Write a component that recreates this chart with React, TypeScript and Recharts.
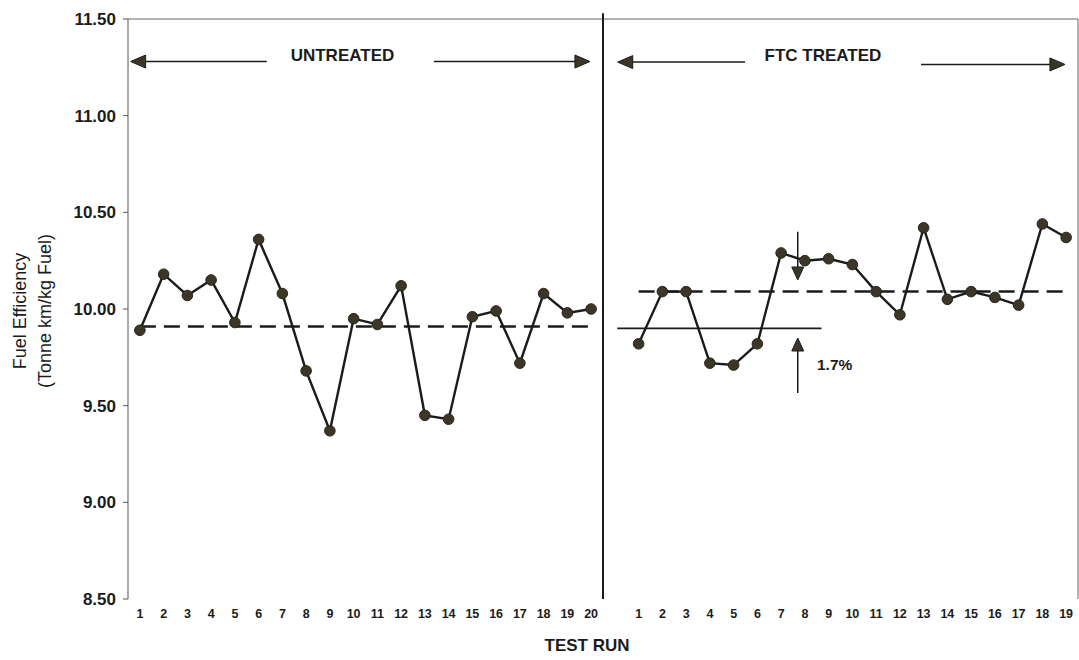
import React from 'react';
import { LineChart, Line, XAxis, YAxis, ReferenceLine, ReferenceDot, Label } from 'recharts';

// Fuel efficiency (Tonne km/kg Fuel) per test run
const untreatedRuns = [1, 2, 3, 4, 5, 6, 7, 8, 9, 10, 11, 12, 13, 14, 15, 16, 17, 18, 19, 20];
const untreatedValues = [9.89, 10.18, 10.07, 10.15, 9.93, 10.36, 10.08, 9.68, 9.37, 9.95, 9.92, 10.12, 9.45, 9.43, 9.96, 9.99, 9.72, 10.08, 9.98, 10.0];
const treatedRuns = [1, 2, 3, 4, 5, 6, 7, 8, 9, 10, 11, 12, 13, 14, 15, 16, 17, 18, 19];
const treatedValues = [9.82, 10.09, 10.09, 9.72, 9.71, 9.82, 10.29, 10.25, 10.26, 10.23, 10.09, 9.97, 10.42, 10.05, 10.09, 10.06, 10.02, 10.44, 10.37];
const yTicks = [8.5, 9.0, 9.5, 10.0, 10.5, 11.0, 11.5];
const untreatedMean = 9.91;
const treatedMean = 10.09;
const untreatedBaseline = 9.9;
const improvementLabel = '1.7%';
const panelLabels = ['UNTREATED', 'FTC TREATED'];

// slot layout: untreated runs in slots 1..20, empty slot 21, treated runs in slots 22..40
const GAP = untreatedRuns.length + 1;
const slotCount = untreatedRuns.length + 1 + treatedRuns.length;
const slots: number[] = Array.from({ length: slotCount }, (_, i) => i + 1);
const boundaries: number[] = Array.from({ length: slotCount + 1 }, (_, i) => i + 0.5);

const data = slots.map((s) => ({
  slot: s,
  untreated: s <= untreatedRuns.length ? untreatedValues[s - 1] : null,
  treated: s > GAP ? treatedValues[s - GAP - 1] : null,
}));

const tickLabel = (v: number) => {
  if (v <= untreatedRuns.length) return String(untreatedRuns[v - 1]);
  if (v === GAP) return '';
  return String(treatedRuns[v - GAP - 1]);
};

const INK = '#1b1b1b';
const DOT = '#3b3627';
const FONT = 'Arial, "Liberation Sans", Helvetica, sans-serif';

const arrowLeft = (p: any) => (
  <polygon points={`${p.cx},${p.cy} ${p.cx + 15},${p.cy - 6.5} ${p.cx + 15},${p.cy + 6.5}`} fill={DOT} stroke={INK} strokeWidth={1} />
);
const arrowRight = (p: any) => (
  <polygon points={`${p.cx},${p.cy} ${p.cx - 15},${p.cy - 6.5} ${p.cx - 15},${p.cy + 6.5}`} fill={DOT} stroke={INK} strokeWidth={1} />
);
const arrowDown = (p: any) => (
  <polygon points={`${p.cx},${p.cy} ${p.cx - 6},${p.cy - 13} ${p.cx + 6},${p.cy - 13}`} fill={DOT} stroke={INK} strokeWidth={1} />
);
const arrowUp = (p: any) => (
  <polygon points={`${p.cx},${p.cy} ${p.cx - 6},${p.cy + 13} ${p.cx + 6},${p.cy + 13}`} fill={DOT} stroke={INK} strokeWidth={1} />
);
const textShape = (txt: string, size: number, anchor: string) => (p: any) => (
  <text x={p.cx} y={p.cy} textAnchor={anchor} dominantBaseline="central" fontFamily={FONT} fontWeight="bold" fontSize={size} fill={INK}>
    {txt}
  </text>
);

const YTitle = (props: any) => {
  const vb = props.viewBox || { x: 0, y: 0, width: 0, height: 0 };
  const cy = vb.y + vb.height / 2 + 2;
  const x1 = vb.x + 20;
  const x2 = vb.x + 45;
  return (
    <g>
      <text x={x1} y={cy} transform={`rotate(-90, ${x1}, ${cy})`} textAnchor="middle" dominantBaseline="central" fontFamily={FONT} fontSize={18} fill={INK}>
        Fuel Efficiency
      </text>
      <text x={x2} y={cy} transform={`rotate(-90, ${x2}, ${cy})`} textAnchor="middle" dominantBaseline="central" fontFamily={FONT} fontSize={18} fill={INK}>
        (Tonne km/kg Fuel)
      </text>
    </g>
  );
};

const XTitle = (props: any) => {
  const vb = props.viewBox || { x: 0, y: 0, width: 0, height: 0 };
  return (
    <text x={vb.x + vb.width / 2 - 16} y={vb.y + vb.height - 11} textAnchor="middle" dominantBaseline="central" fontFamily={FONT} fontWeight="bold" fontSize={17} fill={INK}>
      TEST RUN
    </text>
  );
};

export default function App() {
  const ax = { xAxisId: 'lab' };
  return (
    <div style={{ position: 'absolute', left: 0, top: 0, width: 1079, height: 656, background: '#fff' }}>
      <LineChart width={1079} height={656} data={data} margin={{ top: 19, right: 1, left: 0, bottom: 0 }}>
        <XAxis
          xAxisId="frame"
          type="number"
          dataKey="slot"
          domain={[0.5, slotCount + 0.5]}
          ticks={boundaries}
          interval={0}
          tick={false}
          tickLine={{ stroke: '#444', strokeWidth: 1 }}
          axisLine={{ stroke: '#444', strokeWidth: 1.2 }}
          tickSize={5}
          height={0}
          allowDataOverflow
        />
        <XAxis
          xAxisId="lab"
          type="number"
          dataKey="slot"
          domain={[0.5, slotCount + 0.5]}
          ticks={slots}
          interval={0}
          tickFormatter={tickLabel}
          tickLine={false}
          axisLine={false}
          tickSize={0}
          tickMargin={10}
          height={57}
          tick={{ fontFamily: FONT, fontWeight: 'bold', fontSize: 12.5, fill: INK }}
          allowDataOverflow
        >
          <Label content={XTitle} />
        </XAxis>
        <YAxis
          type="number"
          domain={[8.5, 11.5]}
          ticks={yTicks}
          interval={0}
          width={128}
          tickFormatter={(v: number) => v.toFixed(2)}
          tickSize={5}
          tickMargin={7}
          stroke="#555"
          tick={{ fontFamily: FONT, fontWeight: 'bold', fontSize: 17, fill: INK }}
          allowDataOverflow
        >
          <Label content={YTitle} />
        </YAxis>

        {/* frame top and right */}
        <ReferenceLine {...ax} y={11.5} stroke="#666" strokeWidth={1} />
        <ReferenceLine {...ax} x={slotCount + 0.5} stroke="#666" strokeWidth={1} />
        {/* divider between panels */}
        <ReferenceLine
          {...ax}
          segment={[{ x: GAP - 0.5, y: 8.5 }, { x: GAP - 0.5, y: 11.53 }]}
          ifOverflow="visible"
          stroke={INK}
          strokeWidth={2}
        />

        {/* mean lines */}
        <ReferenceLine {...ax} segment={[{ x: 1, y: untreatedMean }, { x: untreatedRuns.length, y: untreatedMean }]} stroke={INK} strokeWidth={2.5} strokeDasharray="16 8" />
        <ReferenceLine {...ax} segment={[{ x: GAP + 1, y: treatedMean }, { x: slotCount, y: treatedMean }]} stroke={INK} strokeWidth={2.5} strokeDasharray="16 8" />
        <ReferenceLine {...ax} segment={[{ x: GAP + 0.1, y: untreatedBaseline }, { x: GAP + 8.7, y: untreatedBaseline }]} stroke={INK} strokeWidth={1.8} />

        {/* improvement arrows */}
        <ReferenceLine {...ax} segment={[{ x: GAP + 7.7, y: 10.4 }, { x: GAP + 7.7, y: 10.2 }]} stroke={INK} strokeWidth={1.5} />
        <ReferenceDot {...ax} x={GAP + 7.7} y={10.15} r={0} shape={arrowDown} />
        <ReferenceLine {...ax} segment={[{ x: GAP + 7.7, y: 9.565 }, { x: GAP + 7.7, y: 9.8 }]} stroke={INK} strokeWidth={1.5} />
        <ReferenceDot {...ax} x={GAP + 7.7} y={9.85} r={0} shape={arrowUp} />
        <ReferenceDot {...ax} x={GAP + 8.51} y={9.715} r={0} shape={textShape(improvementLabel, 15.5, 'start')} />

        {/* panel header arrows */}
        <ReferenceLine {...ax} segment={[{ x: 0.9, y: 11.28 }, { x: 6.34, y: 11.28 }]} stroke={INK} strokeWidth={1.5} />
        <ReferenceDot {...ax} x={0.61} y={11.28} r={0} shape={arrowLeft} />
        <ReferenceDot {...ax} x={9.53} y={11.31} r={0} shape={textShape(panelLabels[0], 17, 'middle')} />
        <ReferenceLine {...ax} segment={[{ x: 13.38, y: 11.28 }, { x: 19.7, y: 11.28 }]} stroke={INK} strokeWidth={1.5} />
        <ReferenceDot {...ax} x={19.95} y={11.28} r={0} shape={arrowRight} />

        <ReferenceLine {...ax} segment={[{ x: GAP + 0.4, y: 11.277 }, { x: GAP + 5.48, y: 11.277 }]} stroke={INK} strokeWidth={1.5} />
        <ReferenceDot {...ax} x={GAP + 0.12} y={11.277} r={0} shape={arrowLeft} />
        <ReferenceDot {...ax} x={GAP + 8.76} y={11.31} r={0} shape={textShape(panelLabels[1], 17, 'middle')} />
        <ReferenceLine {...ax} segment={[{ x: GAP + 12.89, y: 11.265 }, { x: GAP + 18.7, y: 11.265 }]} stroke={INK} strokeWidth={1.5} />
        <ReferenceDot {...ax} x={GAP + 18.95} y={11.265} r={0} shape={arrowRight} />

        <Line
          xAxisId="lab"
          type="linear"
          dataKey="untreated"
          stroke={INK}
          strokeWidth={2.4}
          dot={{ r: 5.3, fill: DOT, stroke: '#2a2619', strokeWidth: 1 }}
          activeDot={false}
          connectNulls={false}
          isAnimationActive={false}
        />
        <Line
          xAxisId="lab"
          type="linear"
          dataKey="treated"
          stroke={INK}
          strokeWidth={2.4}
          dot={{ r: 5.3, fill: DOT, stroke: '#2a2619', strokeWidth: 1 }}
          activeDot={false}
          connectNulls={false}
          isAnimationActive={false}
        />
      </LineChart>
    </div>
  );
}
